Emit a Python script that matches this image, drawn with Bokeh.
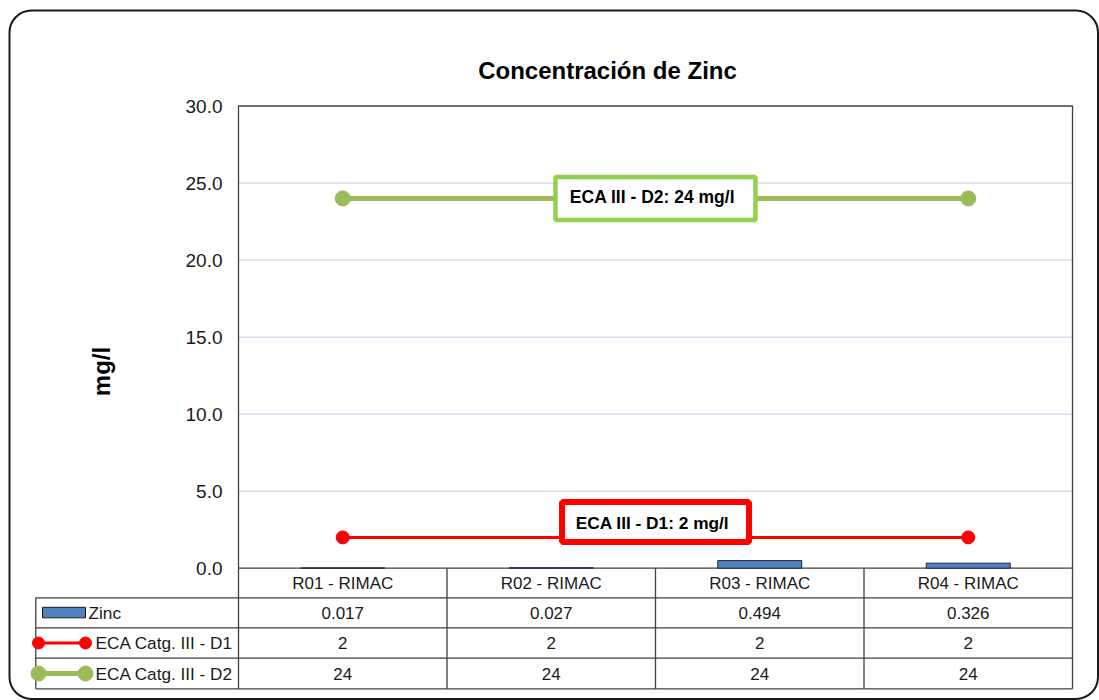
import math
from bokeh.plotting import figure
from bokeh.models import Range1d, BoxAnnotation
from bokeh.core.properties import value
from bokeh.embed import file_html
from bokeh.resources import INLINE

# ---- data -------------------------------------------------------------
estaciones = ["R01 - RIMAC", "R02 - RIMAC", "R03 - RIMAC", "R04 - RIMAC"]
zinc = [0.017, 0.027, 0.494, 0.326]
eca_d1 = [2, 2, 2, 2]
eca_d2 = [24, 24, 24, 24]
series = ["Zinc", "ECA Catg. III - D1", "ECA Catg. III - D2"]
y_ticks = [0, 5, 10, 15, 20, 25, 30]
titulo = "Concentración de Zinc"
eje_y = "mg/l"
nota_d1 = "ECA III - D1: 2 mg/l"
nota_d2 = "ECA III - D2: 24 mg/l"

# ---- layout (canvas pixels) ---------------------------------------------
W, H = 1099, 700
PL, PR, PT, PB = 238.0, 1072.0, 105.5, 567.7     # plot area
TL = 35.3                                         # table left edge
ROWS = [597.3, 627.3, 657.7, 688.3]               # table row bottoms
Y_MAX = float(y_ticks[-1])
n = len(estaciones)
ux = (PR - PL) / n
uy = (PB - PT) / Y_MAX

FONT = value("Liberation Sans")
INK = "#1a1a1a"
GRID = "#BCCFE6"
LINE_T = "#404040"
BLUE, RED, GREEN, GREEN_BOX = "#4F81BD", "#FF0000", "#9BBB59", "#92D050"

p = figure(width=W, height=H, output_backend="svg", toolbar_location=None,
           x_range=Range1d(-PL / ux, n + (W - PR) / ux),
           y_range=Range1d(-(H - PB) / uy, Y_MAX + PT / uy),
           x_axis_type=None, y_axis_type=None, min_border=0)
p.grid.visible = False
p.outline_line_color = None
p.background_fill_color = "white"
p.border_fill_color = "white"
p.extra_x_ranges = {"px": Range1d(0, W)}
p.extra_y_ranges = {"px": Range1d(H, 0)}

xs = [i + 0.5 for i in range(n)]

# chart frame with outer rounded border
p.add_layout(BoxAnnotation(left=9, right=1097.5, top=10, bottom=698.5,
                           x_range_name="px", y_range_name="px",
                           fill_alpha=0, line_color="#1a1a1a", line_alpha=1.0,
                           line_width=2, border_radius=22))

# horizontal gridlines
inner = y_ticks[1:-1]
p.segment(x0=[0] * len(inner), x1=[n] * len(inner), y0=inner, y1=inner,
          line_color=GRID, line_width=1)

# plot area border
p.quad(left=0, right=n, bottom=0, top=Y_MAX, fill_alpha=0,
       line_color=LINE_T, line_width=1.3)

# y tick labels
p.text(x=[0] * len(y_ticks), y=y_ticks, text=[f"{t:.1f}" for t in y_ticks],
       x_offset=-16, text_align="right", text_baseline="middle",
       text_font=FONT, text_font_size="19px", text_color=INK)

# bars
p.vbar(x=xs, top=zinc, bottom=0, width=0.403, fill_color=BLUE,
       line_color="#1F2A3A", line_width=1)

# limit lines
p.line(xs, eca_d2, line_color=GREEN, line_width=5)
p.scatter([xs[0], xs[-1]], [eca_d2[0], eca_d2[-1]], size=15,
          fill_color=GREEN, line_color=GREEN)
p.line(xs, eca_d1, line_color=RED, line_width=3)
p.scatter([xs[0], xs[-1]], [eca_d1[0], eca_d1[-1]], size=13,
          fill_color=RED, line_color=RED)

# callout boxes
p.rect(x=[n / 2], y=[eca_d2[0]], width=200, height=43,
       width_units="screen", height_units="screen",
       fill_color="white", line_color=GREEN_BOX, line_width=4.5)
p.text(x=[n / 2], y=[eca_d2[0]], text=[nota_d2], x_offset=-3, y_offset=-1,
       text_align="center", text_baseline="middle", text_font=FONT,
       text_font_style="bold", text_font_size="17.5px", text_color="black")

d1_y = eca_d1[0] + 15.4 / uy
p.rect(x=[n / 2], y=[d1_y], width=187, height=40,
       width_units="screen", height_units="screen",
       fill_color="white", line_color=RED, line_width=6)
p.text(x=[n / 2], y=[d1_y], text=[nota_d1], x_offset=-3, y_offset=1,
       text_align="center", text_baseline="middle", text_font=FONT,
       text_font_style="bold", text_font_size="17.3px", text_color="black")

# data table grid
p.segment(x0=[TL] * 4, x1=[PR] * 4, y0=ROWS, y1=ROWS,
          x_range_name="px", y_range_name="px",
          line_color=LINE_T, line_width=1.3)
p.segment(x0=[TL], x1=[TL], y0=[ROWS[0]], y1=[ROWS[-1]],
          x_range_name="px", y_range_name="px",
          line_color=LINE_T, line_width=1.3)
bounds = list(range(n + 1))
p.segment(x0=bounds, x1=bounds, y0=[PB] * len(bounds), y1=[ROWS[-1]] * len(bounds),
          y_range_name="px", line_color=LINE_T, line_width=1.3)

# table header and values
row_c = [(PB + ROWS[0]) / 2] + [(ROWS[i] + ROWS[i + 1]) / 2 for i in range(3)]
p.text(x=xs, y=[row_c[0]] * n, text=estaciones, y_range_name="px",
       text_align="center", text_baseline="middle", text_font=FONT,
       text_font_size="17px", text_color=INK)
for r, vals in enumerate([[f"{v:.3f}" for v in zinc],
                          [f"{v:g}" for v in eca_d1],
                          [f"{v:g}" for v in eca_d2]]):
    p.text(x=xs, y=[row_c[r + 1]] * n, text=vals, y_range_name="px",
           text_align="center", text_baseline="middle", text_font=FONT,
           text_font_size="17px", text_color=INK)

# legend keys in the table
p.quad(left=[42], right=[85], top=[row_c[1] - 5.5], bottom=[row_c[1] + 5],
       x_range_name="px", y_range_name="px",
       fill_color=BLUE, line_color="#1a1a1a", line_width=1)
p.line([38, 85], [row_c[2]] * 2, x_range_name="px", y_range_name="px",
       line_color=RED, line_width=3)
p.scatter([38, 85], [row_c[2]] * 2, x_range_name="px", y_range_name="px",
          size=12, fill_color=RED, line_color=RED)
p.line([38, 85], [row_c[3]] * 2, x_range_name="px", y_range_name="px",
       line_color=GREEN, line_width=5)
p.scatter([38, 85], [row_c[3]] * 2, x_range_name="px", y_range_name="px",
          size=15, fill_color=GREEN, line_color=GREEN)
p.text(x=[88, 95, 95], y=row_c[1:], text=series,
       x_range_name="px", y_range_name="px",
       text_align="left", text_baseline="middle", text_font=FONT,
       text_font_size="17.2px", text_color=INK)

# title and axis label
p.text(x=[607], y=[70], text=[titulo], x_range_name="px", y_range_name="px",
       text_align="center", text_baseline="middle", text_font=FONT,
       text_font_style="bold", text_font_size="24px", text_color="black")
p.text(x=[101], y=[371], text=[eje_y], x_range_name="px", y_range_name="px",
       angle=math.pi / 2, text_align="center", text_baseline="middle",
       text_font=FONT, text_font_style="bold", text_font_size="24px",
       text_color="black")

open("out.html", "w").write(file_html(p, INLINE))
